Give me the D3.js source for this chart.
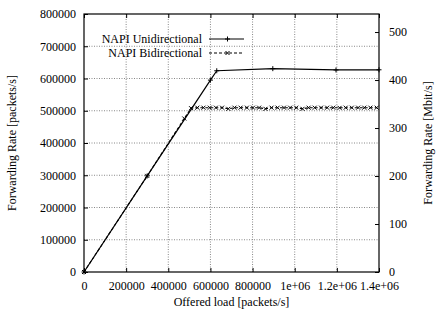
<!DOCTYPE html>
<html><head><meta charset="utf-8">
<script src="https://cdn.jsdelivr.net/npm/d3@7"></script>
<style>body{margin:0;background:#fff}svg{display:block}svg text{font-family:'Liberation Serif','Times New Roman',Times,'DejaVu Serif',serif !important;font-size:12px;fill:#000}</style>
</head><body><svg id="c" width="436" height="309"></svg>
<script>
const xTicks = [0, 200000, 400000, 600000, 800000, 1000000, 1200000, 1400000];
const xTickLabels = ["0","200000","400000","600000","800000","1e+06","1.2e+06","1.4e+06"];
const yTicks = [0,100000,200000,300000,400000,500000,600000,700000,800000];
const y2Ticks = [0,100,200,300,400,500];
const uniX = [0, 300000, 600000, 630000, 896000, 1196000, 1400000];
const uniY = [0, 298000, 595000, 624000, 630500, 626500, 627000];
const biX = [0, 300000, 476000, 508000, 538000, 567000, 597000, 626000, 655000, 685000, 714000, 743000, 773000, 802000, 831000, 861000, 890000, 919000, 949000, 978000, 1007000, 1037000, 1066000, 1095000, 1125000, 1154000, 1183000, 1213000, 1242000, 1271000, 1301000, 1330000, 1359000, 1389000];
const biY = [0, 298000, 476000, 508000, 509500, 509500, 509500, 509500, 509500, 506000, 509500, 509500, 509500, 509500, 509500, 506000, 509500, 509500, 509500, 509500, 509500, 506000, 509500, 509500, 509500, 509500, 509500, 509000, 509500, 509500, 509500, 509500, 509500, 509500];
const seriesNames = ["NAPI Unidirectional","NAPI Bidirectional"];

const FONT = "'Liberation Serif','Times New Roman',Times,'DejaVu Serif',serif";
const svg = d3.select("#c");
const L=84, R=379, T=14, B=272;
const x = d3.scaleLinear().domain([0,1400000]).range([L,R]);
const y = d3.scaleLinear().domain([0,800000]).range([B,T]);
const y2 = d3.scaleLinear().domain([0,537.6]).range([B,T]);

// grid
const g = svg.append("g");
xTicks.slice(1,-1).forEach(v=>g.append("line").attr("x1",x(v)).attr("x2",x(v)).attr("y1",T).attr("y2",B)
  .attr("stroke","#888").attr("stroke-width",1).attr("stroke-dasharray","1,1.5"));
yTicks.slice(1,-1).forEach(v=>g.append("line").attr("x1",L).attr("x2",R).attr("y1",y(v)).attr("y2",y(v))
  .attr("stroke","#888").attr("stroke-width",1).attr("stroke-dasharray","1,1.5"));

// axes
const ax = svg.append("g").attr("transform",`translate(0,${B})`)
  .call(d3.axisBottom(x).tickValues(xTicks).tickFormat((d,i)=>xTickLabels[i]).tickSizeInner(-4).tickSizeOuter(0).tickPadding(9));
const axTop = svg.append("g").attr("transform",`translate(0,${T})`)
  .call(d3.axisTop(x).tickValues(xTicks).tickFormat("").tickSizeInner(-4).tickSizeOuter(0));
const ay = svg.append("g").attr("transform",`translate(${L},0)`)
  .call(d3.axisLeft(y).tickValues(yTicks).tickFormat(d3.format("d")).tickSizeInner(-4).tickSizeOuter(0).tickPadding(8));
const ay2 = svg.append("g").attr("transform",`translate(${R},0)`)
  .call(d3.axisRight(y2).tickValues(y2Ticks).tickFormat(d3.format("d")).tickSizeInner(-4).tickSizeOuter(0).tickPadding(10));
[ax,axTop,ay,ay2].forEach(a=>{
  a.attr("font-family",FONT).attr("font-size",12);
  a.select(".domain").remove();
  a.selectAll("line").attr("stroke","#000");
  a.selectAll("text").style("font-family",FONT).style("font-size","12px").attr("fill","#000");
});
svg.append("rect").attr("x",L).attr("y",T).attr("width",R-L).attr("height",B-T)
  .attr("fill","none").attr("stroke","#000").attr("stroke-width",1.2);

// titles
const tt = (sel)=>sel.style("font-family",FONT).style("font-size","12px");
tt(svg.append("text").attr("x",(L+R)/2).attr("y",306).attr("text-anchor","middle").text("Offered load [packets/s]"));
tt(svg.append("text").attr("transform",`translate(16,${(T+B)/2}) rotate(-90)`).attr("text-anchor","middle").text("Forwarding Rate [packets/s]"));
tt(svg.append("text").attr("transform",`translate(432,${(T+B)/2}) rotate(-90)`).attr("text-anchor","middle").text("Forwarding Rate [Mbit/s]"));

// series
const line = d3.line().x(d=>x(d[0])).y(d=>y(d[1]));
const uni = uniX.map((v,i)=>[v,uniY[i]]);
const bi = biX.map((v,i)=>[v,biY[i]]);
svg.append("path").datum(bi).attr("d",line).attr("fill","none").attr("stroke","#000").attr("stroke-width",1.1).attr("stroke-dasharray","3,2");
svg.append("path").datum(uni).attr("d",line).attr("fill","none").attr("stroke","#000").attr("stroke-width",1.2);

function plus(sel,cx,cy,s){sel.append("path").attr("d",`M${cx-s},${cy}H${cx+s}M${cx},${cy-s}V${cy+s}`).attr("stroke","#000").attr("stroke-width",1);}
function cross(sel,cx,cy,s){sel.append("path").attr("d",`M${cx-s},${cy-s}L${cx+s},${cy+s}M${cx-s},${cy+s}L${cx+s},${cy-s}`).attr("stroke","#000").attr("stroke-width",1);}
const mk = svg.append("g");
uni.forEach(d=>plus(mk,x(d[0]),y(d[1]),2.5));
bi.forEach(d=>cross(mk,x(d[0]),y(d[1]),2));

// legend
const lg = svg.append("g");
[39,53].forEach((ly,i)=>{
  tt(lg.append("text").attr("x",202).attr("y",ly+4).attr("text-anchor","end").text(seriesNames[i]));
  lg.append("line").attr("x1",209).attr("x2",244).attr("y1",ly).attr("y2",ly).attr("stroke","#000")
    .attr("stroke-width",i?1.1:1.2).attr("stroke-dasharray",i?"3,2":null);
  if(i) cross(lg,227.5,ly,2); else plus(lg,227.5,ly,2.5);
});
</script></body></html>
